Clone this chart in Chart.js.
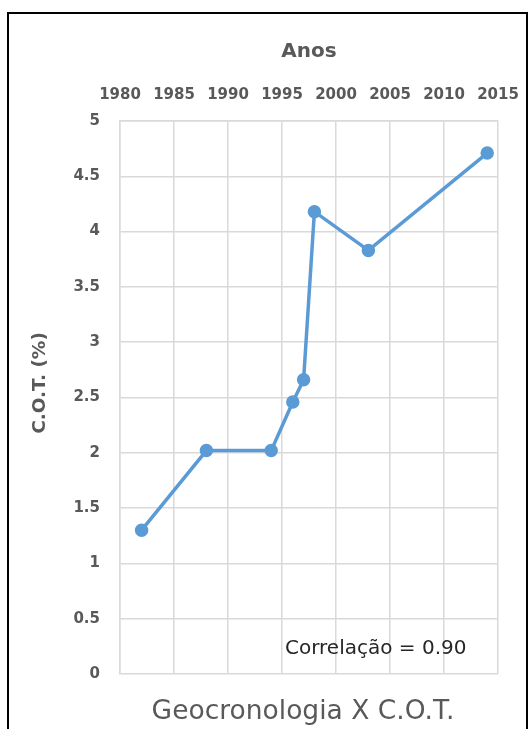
<!DOCTYPE html>
<html>
<head>
<meta charset="utf-8">
<script src="https://cdn.jsdelivr.net/npm/chart.js@4.4.1/dist/chart.umd.min.js"></script>
<style>
  html, body { margin: 0; padding: 0; background: #fff; }
  #wrap { position: relative; width: 528px; height: 729px; }
</style>
</head>
<body>
<div id="wrap"><canvas id="c" width="528" height="729"></canvas></div>
<script>
// Sample years and total organic carbon (C.O.T., %)
const years = [1982, 1988, 1994, 1996, 1997, 1998, 2003, 2014];
const cot = [1.3, 2.02, 2.02, 2.46, 2.66, 4.18, 3.83, 4.71];
const xTicks = [1980, 1985, 1990, 1995, 2000, 2005, 2010, 2015];
const yTicks = [0, 0.5, 1, 1.5, 2, 2.5, 3, 3.5, 4, 4.5, 5];
const yAxisTitle = 'C.O.T. (%)';
const correlationText = 'Correlação = 0.90';
const chartTitle = 'Geocronologia X C.O.T.';

const GRAY = '#595959';
const FONT = '"DejaVu Sans", sans-serif';

// Outer frame, vertical axis title, caption and correlation note
const decorations = {
  id: 'decorations',
  beforeDraw(chart) {
    const ctx = chart.ctx;
    ctx.save();
    ctx.fillStyle = '#fff';
    ctx.fillRect(0, 0, chart.width, chart.height);
    ctx.strokeStyle = '#000';
    ctx.lineWidth = 2;
    ctx.strokeRect(8, 13, 519, 740);
    ctx.restore();
  },
  afterDraw(chart) {
    const ctx = chart.ctx;
    const area = chart.chartArea;
    ctx.save();
    // vertical axis title
    ctx.save();
    ctx.translate(40, 383);
    ctx.rotate(-Math.PI / 2);
    ctx.fillStyle = GRAY;
    ctx.font = 'bold 18.5px ' + FONT;
    ctx.textAlign = 'center';
    ctx.textBaseline = 'middle';
    ctx.fillText(yAxisTitle, 0, 0);
    ctx.restore();
    // correlation note inside the plot
    ctx.fillStyle = '#262626';
    ctx.font = '20px ' + FONT;
    ctx.textAlign = 'left';
    ctx.textBaseline = 'middle';
    ctx.fillText(correlationText, 285, area.bottom - 25);
    // caption under the plot
    ctx.fillStyle = GRAY;
    ctx.font = '26.5px ' + FONT;
    ctx.textAlign = 'center';
    ctx.fillText(chartTitle, 303, 712);
    ctx.restore();
  }
};

new Chart(document.getElementById('c'), {
  type: 'line',
  data: {
    datasets: [{
      data: years.map((y, i) => ({ x: y, y: cot[i] })),
      borderColor: '#5b9bd5',
      backgroundColor: '#5b9bd5',
      borderWidth: 3.5,
      pointRadius: 5,
      pointHoverRadius: 5,
      tension: 0
    }]
  },
  options: {
    responsive: false,
    animation: false,
    layout: { padding: { left: 0, top: 0, right: 30, bottom: 55 } },
    plugins: { legend: { display: false }, tooltip: { enabled: false } },
    scales: {
      x: {
        type: 'linear',
        position: 'top',
        min: 1980,
        max: 2015,
        afterBuildTicks(scale) { scale.ticks = xTicks.map(v => ({ value: v })); },
        afterFit(scale) {
          scale.height = 121;
          scale.paddingLeft = 0;
          scale.paddingRight = 0;
        },
        grid: { color: '#d9d9d9', drawTicks: false, lineWidth: 1.5 },
        border: { color: '#d9d9d9', width: 1.5 },
        ticks: {
          padding: 17,
          color: GRAY,
          font: { family: FONT, size: 15, weight: 'bold' },
          maxRotation: 0,
          callback: v => String(v)
        },
        title: {
          display: true,
          text: 'Anos',
          color: GRAY,
          font: { family: FONT, size: 20, weight: 'bold' },
          padding: { top: 40, bottom: 0 }
        }
      },
      y: {
        min: 0,
        max: 5,
        afterBuildTicks(scale) { scale.ticks = yTicks.map(v => ({ value: v })); },
        afterFit(scale) {
          scale.width = 120;
          scale.paddingTop = 0;
          scale.paddingBottom = 0;
        },
        grid: { color: '#d9d9d9', drawTicks: false, lineWidth: 1.5 },
        border: { color: '#d9d9d9', width: 1.5 },
        ticks: {
          padding: 20,
          color: GRAY,
          font: { family: FONT, size: 15, weight: 'bold' },
          callback: v => String(v)
        }
      }
    }
  },
  plugins: [decorations]
});
</script>
</body>
</html>
